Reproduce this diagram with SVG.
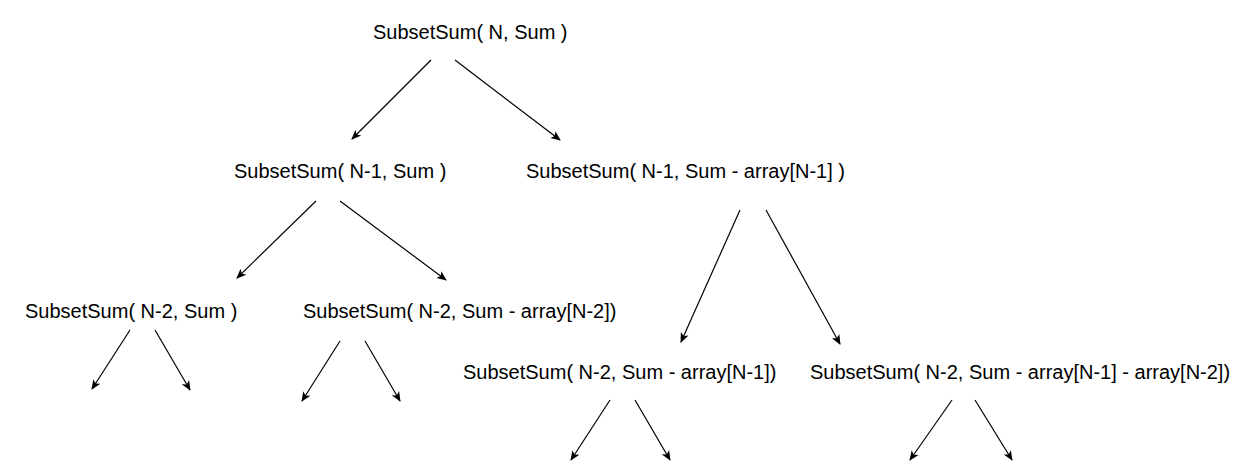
<svg xmlns="http://www.w3.org/2000/svg" width="1241" height="469" viewBox="0 0 1241 469">
<style>
text{font-family:"Liberation Sans",Arial,sans-serif;font-size:20px;fill:#000}
.e{stroke:#000;stroke-width:1.2;fill:none;marker-end:url(#a)}
</style>
<defs>
<marker id="a" viewBox="0 0 10 10" refX="9" refY="5" markerWidth="10" markerHeight="10" markerUnits="userSpaceOnUse" orient="auto">
<path d="M0,0.8 L10,5 L0,9.2 L2.5,5 z" fill="#000"/>
</marker>
</defs>
<rect width="1241" height="469" fill="#fff"/>
<g id="n1"><text x="373" y="39">SubsetSum( N, Sum )</text></g>
<g id="n2"><text x="234" y="178">SubsetSum( N-1, Sum )</text></g>
<g id="n3"><text x="526" y="178">SubsetSum( N-1, Sum - array[N-1] )</text></g>
<g id="n4"><text x="25" y="318">SubsetSum( N-2, Sum )</text></g>
<g id="n5"><text x="303" y="318">SubsetSum( N-2, Sum - array[N-2])</text></g>
<g id="n6"><text x="463" y="379">SubsetSum( N-2, Sum - array[N-1])</text></g>
<g id="n7"><text x="810" y="379">SubsetSum( N-2, Sum - array[N-1] - array[N-2])</text></g>
<g id="edges">
<line class="e" x1="431" y1="60" x2="352" y2="139"/>
<line class="e" x1="455" y1="60" x2="560" y2="140"/>
<line class="e" x1="316" y1="201" x2="237" y2="278"/>
<line class="e" x1="340" y1="201" x2="446" y2="280"/>
<line class="e" x1="740" y1="210" x2="681" y2="342"/>
<line class="e" x1="766" y1="210" x2="840" y2="344"/>
<line class="e" x1="130" y1="330" x2="92" y2="389"/>
<line class="e" x1="155" y1="330" x2="190" y2="390"/>
<line class="e" x1="340" y1="341" x2="302" y2="401"/>
<line class="e" x1="365" y1="341" x2="400" y2="401"/>
<line class="e" x1="610" y1="400" x2="571" y2="460"/>
<line class="e" x1="635" y1="400" x2="670" y2="460"/>
<line class="e" x1="952" y1="400" x2="910" y2="460"/>
<line class="e" x1="975" y1="400" x2="1012" y2="460"/>
</g>
</svg>
